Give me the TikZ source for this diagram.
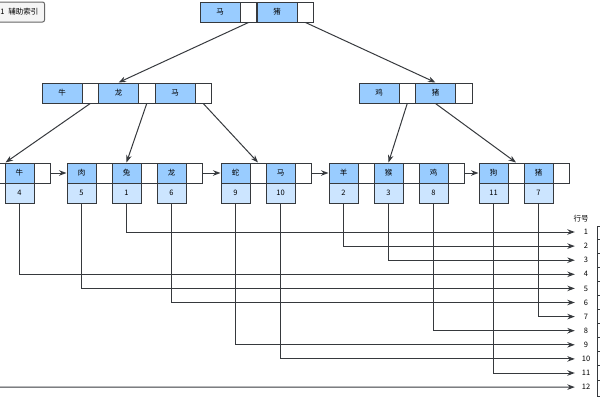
\documentclass[tikz,border=0pt]{standalone}
\usepackage{fontspec}
\usepackage{tikz}
\usetikzlibrary{arrows.meta}
\newfontfamily\cjk{Noto Sans CJK SC}
\definecolor{keyblue}{HTML}{99CCFF}
\definecolor{rowblue}{HTML}{CCE5FF}
\definecolor{edge}{HTML}{36393D}

\begin{document}
\begin{tikzpicture}[x=1pt, y=-1pt,
    every node/.style={font=\cjk\fontsize{7.5}{8}\selectfont, inner sep=0pt},
    key/.style={draw=edge, fill=keyblue, line width=1pt, minimum width=40pt, minimum height=20pt},
    ptr/.style={draw=edge, fill=white, line width=1pt, minimum width=16.5pt, minimum height=20pt},
    leafkey/.style={key, minimum width=29pt},
    leafptr/.style={ptr, minimum width=16pt},
    rowid/.style={draw=edge, fill=rowblue, line width=1pt, minimum width=29pt, minimum height=20pt},
    rownum/.style={minimum width=22pt},
    link/.style={draw=edge, line width=1pt, -{Stealth[length=7.5pt,width=5.5pt]}}]

    \useasboundingbox (0,0) rectangle (600,400);

    \node [draw=gray!80!black, fill=gray!8, line width=1pt, rounded corners=2pt, minimum height=20pt, inner xsep=6pt, anchor=east] (title) at (45,12) {图1\hspace{4pt}辅助索引};

    % root
    \node [key] (r-ma) at (220, 12) {马};
    \node [ptr] (r-ma-p) at (248.5, 12) {};
    \node [key] (r-zhu) at (277, 12) {猪};
    \node [ptr] (r-zhu-p) at (305.5, 12) {};

    % inner nodes
    \node [key] (i-niu) at (62, 93) {牛};
    \node [ptr] (i-niu-p) at (90.25, 93) {};
    \node [key] (i-long) at (118.5, 93) {龙};
    \node [ptr] (i-long-p) at (146.75, 93) {};
    \node [key] (i-ma) at (175, 93) {马};
    \node [ptr] (i-ma-p) at (203.25, 93) {};

    \node [key] (i-ji) at (379, 93) {鸡};
    \node [ptr] (i-ji-p) at (407.25, 93) {};
    \node [key] (i-zhu) at (435.5, 93) {猪};
    \node [ptr] (i-zhu-p) at (463.75, 93) {};

    % leaves
    \node [leafptr] (niu-q) at (-3, 173) {};
    \node [leafkey] (niu) at (19.5, 173) {牛};
    \node [leafptr] (niu-p) at (42, 173) {};

    \node [leafkey] (rou) at (81.5, 173) {肉};
    \node [leafptr] (rou-p) at (104, 173) {};
    \node [leafkey] (tu) at (126.5, 173) {兔};
    \node [leafptr] (tu-p) at (149, 173) {};
    \node [leafkey] (long) at (171.5, 173) {龙};
    \node [leafptr] (long-p) at (194, 173) {};

    \node [leafkey] (she) at (235.5, 173) {蛇};
    \node [leafptr] (she-p) at (258, 173) {};
    \node [leafkey] (ma) at (280.5, 173) {马};
    \node [leafptr] (ma-p) at (303, 173) {};

    \node [leafkey] (yang) at (343.5, 173) {羊};
    \node [leafptr] (yang-p) at (366, 173) {};
    \node [leafkey] (hou) at (388.5, 173) {猴};
    \node [leafptr] (hou-p) at (411, 173) {};
    \node [leafkey] (ji) at (433.5, 173) {鸡};
    \node [leafptr] (ji-p) at (456, 173) {};

    \node [leafkey] (gou) at (493.5, 173) {狗};
    \node [leafptr] (gou-p) at (516, 173) {};
    \node [leafkey] (zhu) at (538.5, 173) {猪};
    \node [leafptr] (zhu-p) at (561, 173) {};

    % row ids under the leaf keys
    \node [rowid] (niu-id) at (19.5, 193) {4};
    \node [rowid] (rou-id) at (81.5, 193) {5};
    \node [rowid] (tu-id) at (126.5, 193) {1};
    \node [rowid] (long-id) at (171.5, 193) {6};
    \node [rowid] (she-id) at (235.5, 193) {9};
    \node [rowid] (ma-id) at (280.5, 193) {10};
    \node [rowid] (yang-id) at (343.5, 193) {2};
    \node [rowid] (hou-id) at (388.5, 193) {3};
    \node [rowid] (ji-id) at (433.5, 193) {8};
    \node [rowid] (gou-id) at (493.5, 193) {11};
    \node [rowid] (zhu-id) at (538.5, 193) {7};

    % row numbers
    \node (rowhead) at (581, 219) {行号};
    \foreach \r in {1,...,12}
      \node [rownum] (n\r) at (586, {232+14.1*(\r-1)}) {\r};
    \draw [draw=edge, line width=1pt] (597,226) rectangle (640,396);
    \foreach \r in {1,...,11}
      \draw [draw=edge, line width=1pt] (597, {239+14.1*(\r-1)}) -- (640, {239+14.1*(\r-1)});
    \coordinate (off12) at (-5, 387.1);

    % tree links
    \draw [link] (r-ma-p.south) -- (i-long.north);
    \draw [link] (r-zhu-p.south) -- (i-zhu.north);

    \draw [link] (i-niu-p.south) -- (niu-q.north east);
    \draw [link] (i-long-p.south) -- (tu.north);
    \draw [link] (i-ma-p.south) -- (she-p.north);
    \draw [link] (i-ji-p.south) -- (hou.north);
    \draw [link] (i-zhu.south) -- (gou-p.north);

    % leaf list
    \draw [link] (niu-p.east) -- (rou.west);
    \draw [link] (long-p.east) -- (she.west);
    \draw [link] (ma-p.east) -- (yang.west);
    \draw [link] (ji-p.east) -- (gou.west);

    % to the rows
    \draw [link] (tu-id.south) |- (n1.west);
    \draw [link] (yang-id.south) |- (n2.west);
    \draw [link] (hou-id.south) |- (n3.west);
    \draw [link] (niu-id.south) |- (n4.west);
    \draw [link] (rou-id.south) |- (n5.west);
    \draw [link] (long-id.south) |- (n6.west);
    \draw [link] (zhu-id.south) |- (n7.west);
    \draw [link] (ji-id.south) |- (n8.west);
    \draw [link] (she-id.south) |- (n9.west);
    \draw [link] (ma-id.south) |- (n10.west);
    \draw [link] (gou-id.south) |- (n11.west);
    \draw [link] (off12) -- (n12.west);

\end{tikzpicture}
\end{document}
